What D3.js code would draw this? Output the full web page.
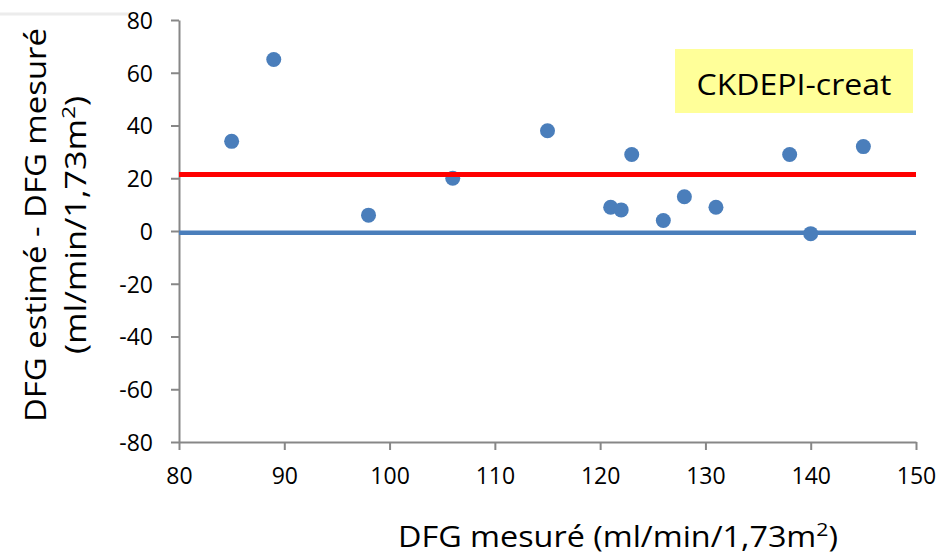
<!DOCTYPE html>
<html>
<head>
<meta charset="utf-8">
<script src="https://cdn.jsdelivr.net/npm/d3@7"></script>
<style>
  body { margin: 0; background: #fff; overflow: hidden; }
  svg { display: block; }
  svg text { font-family: "Open Sans", "Noto Sans", sans-serif; fill: #000; }
</style>
</head>
<body>
<div id="chart-area"></div>
<script>
// DFG measured vs (estimated - measured), CKDEPI-creat
const measured = [85, 89, 98, 106, 115, 121, 122, 123, 126, 128, 131, 138, 140, 145];
const diff     = [34, 65, 6, 20, 38, 9, 8, 29, 4, 13, 9, 29, -1, 32];
const meanBias = -0.7;
const upperLine = 21.4;
const xTicks = [80, 90, 100, 110, 120, 130, 140, 150];
const yTicks = [-80, -60, -40, -20, 0, 20, 40, 60, 80];
const label = "CKDEPI-creat";

const width = 949;
const height = 555;
const margin = {left: 179, top: 20, right: 33, bottom: 113};
const innerWidth = width - margin.left - margin.right;
const innerHeight = height - margin.top - margin.bottom;

const svg = d3.select("#chart-area")
    .append("svg")
    .attr("width", width)
    .attr("height", height);

// faint slide edge at the top left
svg.append("line")
    .attr("x1", 0).attr("x2", 130)
    .attr("y1", 14).attr("y2", 14)
    .attr("stroke", "#ececec")
    .attr("stroke-width", 3);

const g = svg.append("g")
    .attr("transform", `translate(${margin.left},${margin.top})`);

const x = d3.scaleLinear().domain([80, 150]).range([0, innerWidth]);
const y = d3.scaleLinear().domain([-80, 80]).range([innerHeight, 0]);

const axisColor = "#878787";

const xAxis = g.append("g")
    .attr("transform", `translate(0,${innerHeight})`)
    .call(d3.axisBottom(x).tickValues(xTicks).tickFormat(d => String(d))
        .tickSize(8).tickPadding(18).tickSizeOuter(0));

const yAxis = g.append("g")
    .call(d3.axisLeft(y).tickValues(yTicks).tickFormat(d => String(d))
        .tickSize(8).tickPadding(18).tickSizeOuter(0));

[xAxis, yAxis].forEach(a => {
    a.select(".domain").attr("stroke", axisColor).attr("stroke-width", 2);
    a.selectAll(".tick line").attr("stroke", axisColor).attr("stroke-width", 2);
    a.selectAll(".tick text")
        .attr("font-size", 23)
        .attr("fill", "#000");
});
yAxis.selectAll(".tick text").attr("dy", "0.36em");

// reference lines
g.append("line")
    .attr("x1", x(80)).attr("x2", x(150))
    .attr("y1", y(meanBias)).attr("y2", y(meanBias))
    .attr("stroke", "#4a7ebb")
    .attr("stroke-width", 4.5);

// points
g.selectAll("circle")
    .data(measured.map((m, i) => ({m: m, d: diff[i]})))
    .enter()
    .append("circle")
    .attr("cx", d => x(d.m))
    .attr("cy", d => y(d.d))
    .attr("r", 7.5)
    .attr("fill", "#4a7ebb");

g.append("line")
    .attr("x1", x(80)).attr("x2", x(150))
    .attr("y1", y(upperLine)).attr("y2", y(upperLine))
    .attr("stroke", "#ff0000")
    .attr("stroke-width", 5);

// label box
svg.append("rect")
    .attr("x", 675).attr("y", 49)
    .attr("width", 238).attr("height", 64)
    .attr("fill", "#ffff99");

svg.append("text")
    .attr("x", 794).attr("y", 95)
    .attr("text-anchor", "middle")
    .attr("font-size", 30)
    .attr("textLength", 195)
    .attr("lengthAdjust", "spacingAndGlyphs")
    .text(label);

// x title
const xt = svg.append("text")
    .attr("x", 398).attr("y", 547)
    .attr("font-size", 29)
    .attr("textLength", 440)
    .attr("lengthAdjust", "spacingAndGlyphs");
xt.append("tspan").text("DFG mesuré (ml/min/1,73m");
xt.append("tspan").attr("font-size", 19).attr("dy", -11).text("2");
xt.append("tspan").attr("dy", 11).text(")");

// y title
const yt = svg.append("g")
    .attr("transform", "translate(0,225) rotate(-90)");

yt.append("text")
    .attr("x", 0).attr("y", 46)
    .attr("text-anchor", "middle")
    .attr("font-size", 29)
    .attr("textLength", 394)
    .attr("lengthAdjust", "spacingAndGlyphs")
    .text("DFG  estimé - DFG mesuré");

const yt2 = yt.append("text")
    .attr("x", -129).attr("y", 86)
    .attr("font-size", 29)
    .attr("textLength", 258)
    .attr("lengthAdjust", "spacingAndGlyphs");
yt2.append("tspan").text("(ml/min/1,73m");
yt2.append("tspan").attr("font-size", 19).attr("dy", -11).text("2");
yt2.append("tspan").attr("dy", 11).text(")");
</script>
</body>
</html>
